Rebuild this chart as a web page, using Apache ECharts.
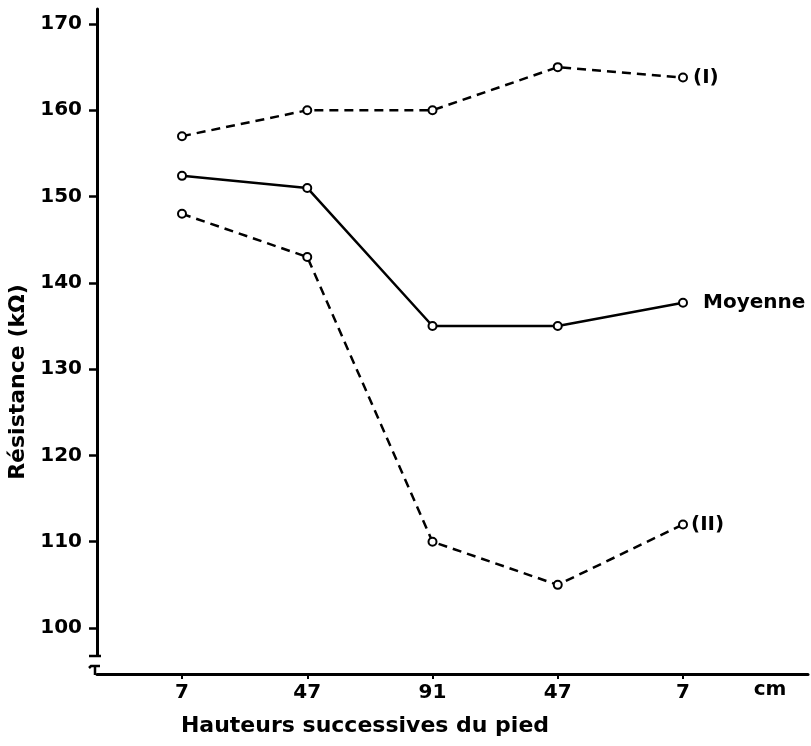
<!DOCTYPE html>
<html>
<head>
<meta charset="utf-8">
<script src="https://cdn.jsdelivr.net/npm/echarts@6/dist/echarts.min.js"></script>
<style>
html,body{margin:0;padding:0;background:#fff;}
#chart{width:811px;height:746px;}
</style>
</head>
<body>
<div id="chart"></div>
<script>
// ---- data ----
const categories = ['7', '47', '91', '47', '7'];
const serieI = [157, 160, 160, 165, 163.8];
const serieMoyenne = [152.4, 151, 135, 135, 137.7];
const serieII = [148, 143, 110, 105, 112];
const yTicks = [100, 110, 120, 130, 140, 150, 160, 170];
const seriesNames = ['(I)', 'Moyenne', '(II)'];
const yTitle = 'Résistance (kΩ)';
const xTitle = 'Hauteurs successives du pied';
const xUnit = 'cm';

const FONT = 'DejaVu Sans';
const INK = '#000';

const chart = echarts.init(document.getElementById('chart'), null, {renderer: 'canvas'});

function lineSeries(name, data, dashed, labelDist) {
  return {
    type: 'line',
    name: name,
    xAxisIndex: 1,
    yAxisIndex: 1,
    data: data,
    symbol: 'emptyCircle',
    symbolSize: 8,
    showAllSymbol: true,
    color: INK,
    itemStyle: {color: INK, borderColor: INK, borderWidth: 2},
    lineStyle: {color: INK, width: 2.5, type: dashed ? [9, 6] : 'solid'},
    endLabel: {
      show: true,
      formatter: '{a}',
      distance: labelDist,
      color: INK,
      fontFamily: FONT,
      fontSize: 20,
      fontWeight: 'bold'
    },
    emphasis: {disabled: true},
    animation: false,
    z: 5
  };
}

const option = {
  backgroundColor: '#fff',
  animation: false,
  grid: [
    {left: 97, right: 3, top: 9, bottom: 91},
    {left: 182, right: 128, top: 24, bottom: 118}
  ],
  xAxis: [
    {
      gridIndex: 0, type: 'value', min: 0, max: 1, offset: 19,
      axisLine: {show: true, onZero: false, lineStyle: {color: INK, width: 3}},
      axisTick: {show: false}, axisLabel: {show: false}, splitLine: {show: false}
    },
    {
      gridIndex: 1, type: 'category', data: categories, boundaryGap: false, offset: 46,
      axisLine: {show: false},
      axisTick: {show: true, length: 5, lineStyle: {color: INK, width: 2}},
      axisLabel: {color: INK, fontFamily: FONT, fontSize: 20, fontWeight: 'bold', margin: 9},
      splitLine: {show: false}
    }
  ],
  yAxis: [
    {
      gridIndex: 0, type: 'value', min: 0, max: 1,
      axisLine: {show: true, onZero: false, lineStyle: {color: INK, width: 3}},
      axisTick: {show: false}, axisLabel: {show: false}, splitLine: {show: false}
    },
    {
      gridIndex: 1, type: 'value', min: yTicks[0], max: yTicks[yTicks.length - 1], interval: yTicks[1] - yTicks[0],
      offset: 85,
      axisLine: {show: false},
      axisTick: {show: true, length: 8, lineStyle: {color: INK, width: 2.5}},
      axisLabel: {color: INK, fontFamily: FONT, fontSize: 20, fontWeight: 'bold', margin: 15},
      splitLine: {show: false}
    }
  ],
  graphic: [
    {
      type: 'text', x: 18, y: 382, rotation: Math.PI / 2,
      style: {text: yTitle, fill: INK, font: 'bold 22px "DejaVu Sans"', align: 'center', verticalAlign: 'middle'}
    },
    {
      type: 'text', x: 365, y: 726,
      style: {text: xTitle, fill: INK, font: 'bold 22px "DejaVu Sans"', align: 'center', verticalAlign: 'middle'}
    },
    {
      type: 'text', x: 770, y: 690,
      style: {text: xUnit, fill: INK, font: 'bold 20px "DejaVu Sans"', align: 'center', verticalAlign: 'middle'}
    },
    {type: 'line', shape: {x1: 89, y1: 656, x2: 101, y2: 656}, style: {stroke: INK, lineWidth: 2.5}},
    {type: 'polyline', shape: {points: [[89, 668], [91, 666], [100, 666]]}, style: {stroke: INK, lineWidth: 2.5, fill: null}},
    {type: 'line', shape: {x1: 95, y1: 666, x2: 95, y2: 675}, style: {stroke: INK, lineWidth: 2.5}}
  ],
  series: [
    lineSeries(seriesNames[0], serieI, true, 10),
    lineSeries(seriesNames[1], serieMoyenne, false, 20),
    lineSeries(seriesNames[2], serieII, true, 8)
  ]
};
chart.setOption(option);
</script>
</body>
</html>
